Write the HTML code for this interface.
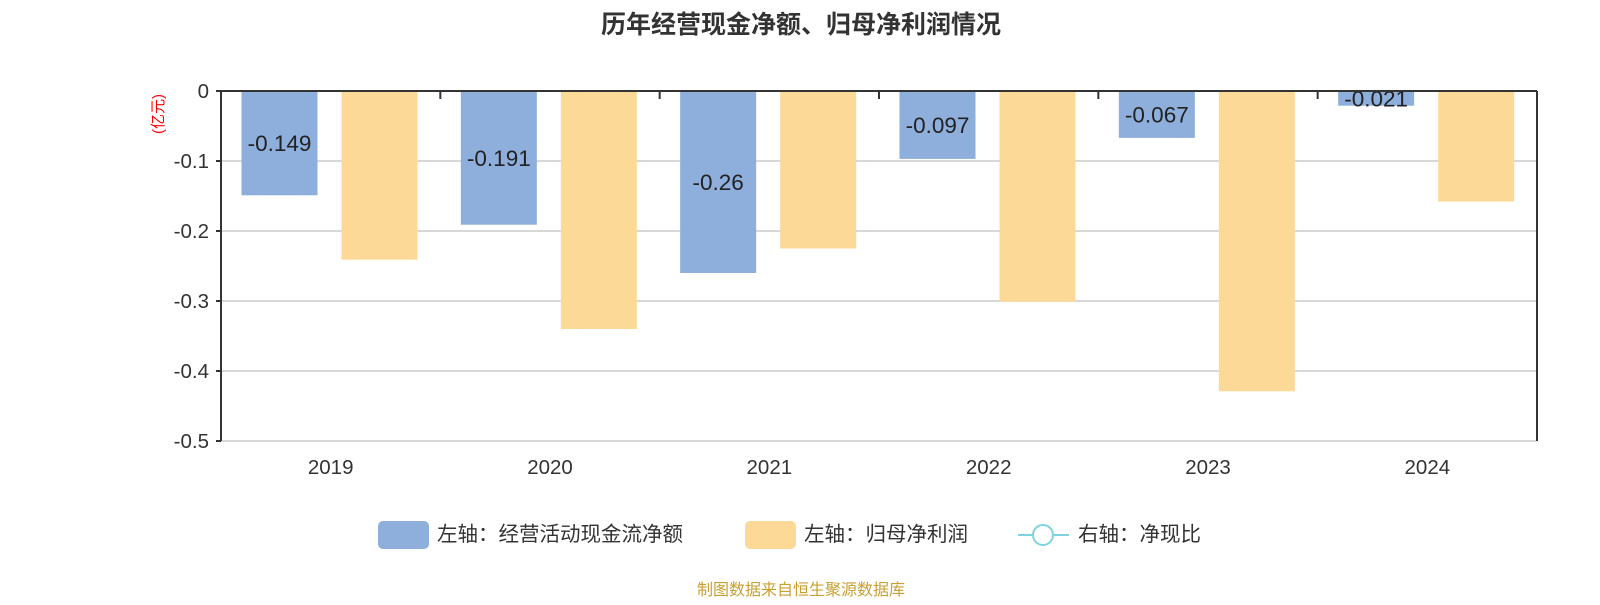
<!DOCTYPE html>
<html><head><meta charset="utf-8"><style>
body{margin:0;background:#fff;font-family:"Liberation Sans","Noto Sans CJK SC",sans-serif;}
</style></head><body>
<svg width="1600" height="600" xmlns="http://www.w3.org/2000/svg" font-family="Liberation Sans, Noto Sans CJK SC, sans-serif">
<text x="801" y="33" text-anchor="middle" font-size="25" font-weight="bold" fill="#333">历年经营现金净额、归母净利润情况</text>
<text transform="translate(163,114) rotate(-90)" text-anchor="middle" font-size="15" fill="#f00">(亿元)</text>
<g id="grid"></g><g id="bars"></g><g id="axes"></g>
<g font-size="20.5" fill="#333">
<rect x="378" y="521" width="51" height="28" rx="5" fill="#8eaedb"/>
<text x="437" y="541">左轴：经营活动现金流净额</text>
<rect x="745" y="521" width="51" height="28" rx="5" fill="#fdd997"/>
<text x="804" y="541">左轴：归母净利润</text>
<line x1="1018" y1="535" x2="1069" y2="535" stroke="#7fd3dd" stroke-width="2"/>
<circle cx="1043" cy="535" r="10" fill="#fff" stroke="#7fd3dd" stroke-width="2"/>
<text x="1078" y="541">右轴：净现比</text>
</g>
<text x="801" y="595" text-anchor="middle" font-size="16" fill="#c8a032">制图数据来自恒生聚源数据库</text>
</svg>
<script>
const categories=["2019","2020","2021","2022","2023","2024"];
const cashFlow=[-0.149,-0.191,-0.26,-0.097,-0.067,-0.021];
const netProfit=[-0.241,-0.34,-0.225,-0.301,-0.429,-0.158];
const yTicks=[0,-0.1,-0.2,-0.3,-0.4,-0.5];
const NS="http://www.w3.org/2000/svg";
const L=221,R=1537,T=91,B=441;
const bw=(R-L)/categories.length;
const y=v=>T+(-v/0.5)*(B-T);
function mk(p,tag,a,txt){const e=document.createElementNS(NS,tag);for(const k in a)e.setAttribute(k,a[k]);if(txt!==undefined)e.textContent=txt;p.appendChild(e);return e;}
const grid=document.getElementById('grid'),bars=document.getElementById('bars'),axes=document.getElementById('axes');
yTicks.forEach(t=>{
 if(t!==0){const g=mk(grid,'line',{x1:L,x2:R,y1:y(t),y2:y(t),stroke:'#ccc','stroke-width':1.5});
 
 }
 mk(axes,'line',{x1:L-5,x2:L,y1:y(t),y2:y(t),stroke:'#333','stroke-width':2});
 const tl=mk(axes,'text',{x:L-12,y:y(t)+7,'text-anchor':'end','font-size':20.5,fill:'#333'},t===0?'0':String(t));
 
 
});
mk(axes,'line',{x1:L,x2:L,y1:T,y2:B,stroke:'#333','stroke-width':2});
mk(axes,'line',{x1:R,x2:R,y1:T,y2:B,stroke:'#333','stroke-width':2});
mk(axes,'line',{x1:L,x2:R,y1:T,y2:T,stroke:'#333','stroke-width':2});
categories.forEach((c,i)=>{
 const x0=L+i*bw;
 mk(axes,'line',{x1:x0,x2:x0,y1:T,y2:T+8,stroke:'#333','stroke-width':2});
 const xl=mk(axes,'text',{x:x0+bw/2,y:B+33,'text-anchor':'middle','font-size':20.5,fill:'#333'},c);
 
 
 const b1=mk(bars,'rect',{x:x0+20.5,y:T,width:76,height:y(cashFlow[i])-T,fill:'#8eaedb'});
 
 
 const b2=mk(bars,'rect',{x:x0+120.5,y:T,width:76,height:y(netProfit[i])-T,fill:'#fdd997'});
 
 
 const lb=mk(bars,'text',{x:x0+58.5,y:(T+y(cashFlow[i]))/2+8,'text-anchor':'middle','font-size':22.5,fill:'#222'},String(cashFlow[i]));
 
 
});
mk(axes,'line',{x1:R,x2:R,y1:T,y2:T+8,stroke:'#333','stroke-width':2});
</script>
</body></html>
